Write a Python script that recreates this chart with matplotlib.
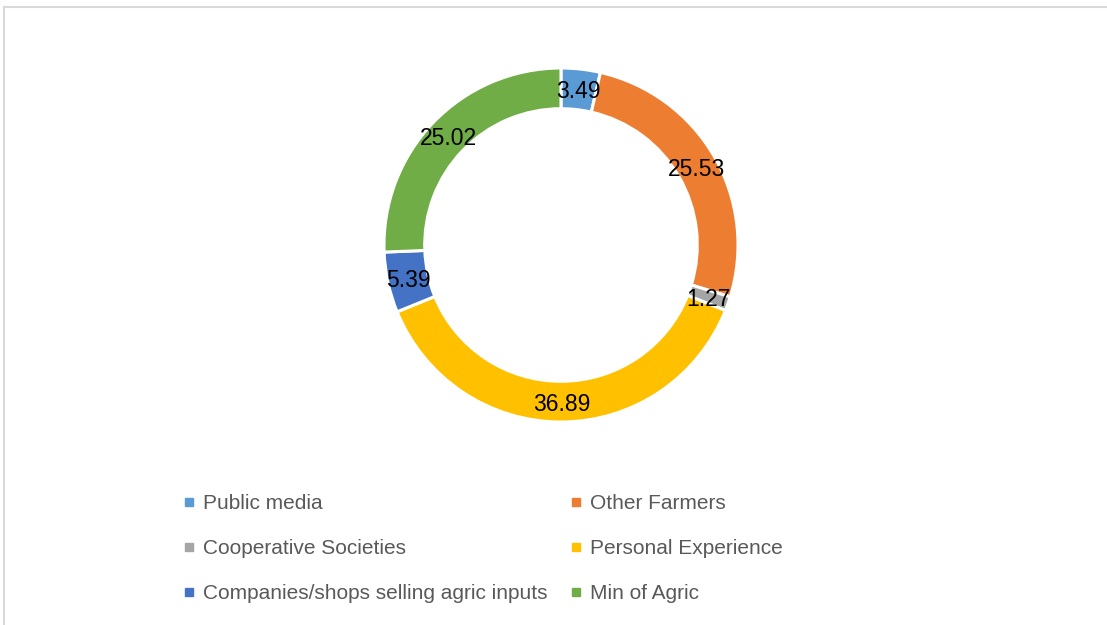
#!/usr/bin/env python
# -*- coding: utf-8 -*-
"""
Donut chart - sources of information
"""

import numpy as np
import matplotlib
matplotlib.use('Agg')
import matplotlib.pyplot as plt
from matplotlib.lines import Line2D

# data
sources = ['Public media', 'Other Farmers', 'Cooperative Societies',
           'Personal Experience', 'Companies/shops selling agric inputs',
           'Min of Agric']
values = [3.49, 25.53, 1.27, 36.89, 5.39, 25.02]
colors = ['#5B9BD5', '#ED7D31', '#A5A5A5', '#FFC000', '#4472C4', '#70AD47']


def run_plot():
    plt.rcParams['font.family'] = ['Liberation Sans', 'DejaVu Sans']

    W, H = 1107, 625
    fig = plt.figure(figsize=(W / 100, H / 100), dpi=100)

    # donut centre (561, 245) px, outer radius 177 px
    cx, cy, r = 561, 245, 177
    ax = fig.add_axes([(cx - r) / W, (H - cy - r) / H, 2 * r / W, 2 * r / H])
    ring = 0.23
    wedges, _ = ax.pie(values, colors=colors, startangle=90, counterclock=False,
                       radius=1.0,
                       wedgeprops=dict(width=ring, edgecolor='white', linewidth=2.2))
    ax.set_xlim(-1, 1)
    ax.set_ylim(-1, 1)
    ax.set_aspect('equal')
    ax.axis('off')

    # value labels in the middle of the ring
    rl = 1 - ring / 2
    for w, v in zip(wedges, values):
        ang = np.deg2rad((w.theta1 + w.theta2) / 2)
        ax.text(rl * np.cos(ang), rl * np.sin(ang), '%.2f' % v,
                ha='center', va='center_baseline', fontsize=16.5, color='black')

    # legend, two columns filled row by row
    order = [0, 2, 4, 1, 3, 5]
    handles = [Line2D([], [], ls='none', marker='s', markersize=5.8,
                      markerfacecolor=colors[i], markeredgecolor=colors[i])
               for i in order]
    labels = [sources[i] for i in order]
    fig.legend(handles, labels, ncol=2, loc='upper left',
               bbox_to_anchor=(183 / W, 1 - 494 / H),
               frameon=False, fontsize=15, labelcolor='#595959',
               handlelength=0.6, handletextpad=0.35,
               columnspacing=1.08, labelspacing=1.25,
               borderpad=0, borderaxespad=0)

    # light grey chart-area border (top and left edges visible)
    fig.add_artist(Line2D([4 / W, 1], [1 - 6.5 / H, 1 - 6.5 / H],
                          transform=fig.transFigure, color='#d9d9d9', lw=1.5))
    fig.add_artist(Line2D([4 / W, 4 / W], [0, 1 - 6.5 / H],
                          transform=fig.transFigure, color='#d9d9d9', lw=1.5))

    fig.savefig('out.png', dpi=100, facecolor='white')


if __name__ == '__main__':
    run_plot()
